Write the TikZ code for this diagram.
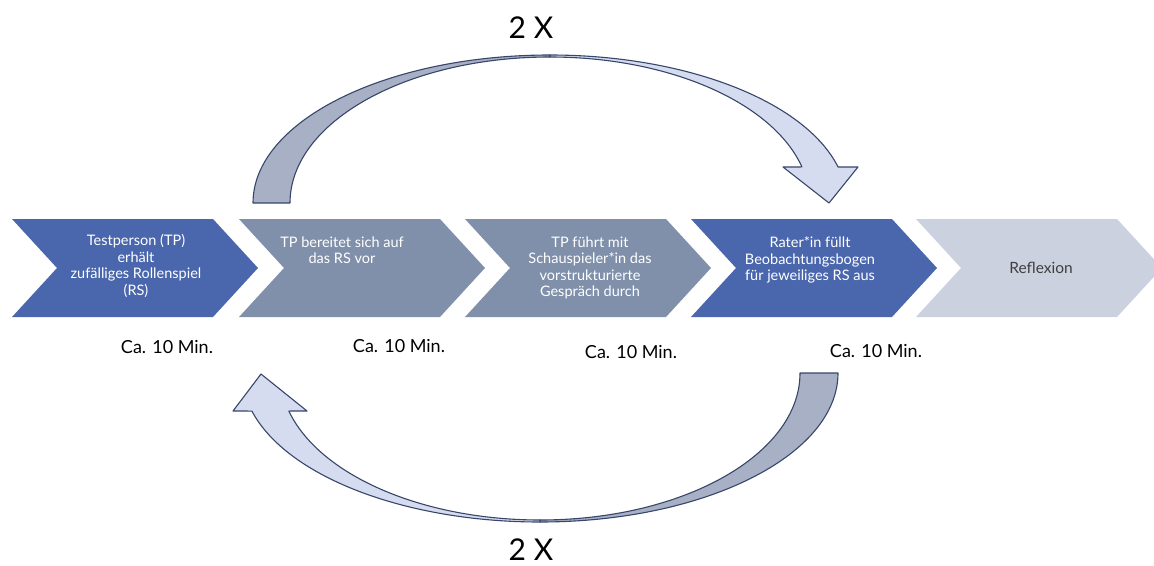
\documentclass[tikz,border=0pt]{standalone}
\usepackage{fontspec}
\usetikzlibrary{calc}
\setmainfont{Lato}
\definecolor{stepdark}{HTML}{4A66AC}
\definecolor{stepmid}{HTML}{8090AB}
\definecolor{steplight}{HTML}{CBD1DE}
\definecolor{arrowdark}{HTML}{A8B0C5}
\definecolor{arrowlight}{HTML}{D6DCEF}
\definecolor{arrowline}{HTML}{37466A}
\definecolor{labelgrey}{HTML}{3F3F3F}
\begin{document}
\begin{tikzpicture}[x=1pt,y=-1pt,
  steptext/.style={align=center,text=white,inner sep=0pt,
    font=\fontsize{14.5}{16.5}\selectfont},
  timetext/.style={inner sep=0pt,font=\fontsize{18}{20}\selectfont},
  repeattext/.style={inner sep=0pt,font=\fontsize{30}{32}\selectfont},
  bandfill/.style={draw=arrowline,line width=1.1pt,line join=round}]
\useasboundingbox (0,0) rectangle (1154,565);

% process chevrons
\foreach \L/\col in {12/stepdark,239/stepmid,465/stepmid,691/stepdark,916/steplight}
  \fill[\col] (\L,219) -- ++(201,0) -- ++(45,49) -- ++(-45,49) -- ++(-201,0) -- ++(45,-49) -- cycle;

\node[steptext] (s1) at (136,266) {Testperson (TP)\\erhält\\zufälliges Rollenspiel\\(RS)};
\node[steptext] (s2) at (342,250) {TP bereitet sich auf\\das RS vor};
\node[steptext] (s3) at (590,268) {TP führt mit\\Schauspieler*in das\\vorstrukturierte\\Gespräch durch};
\node[steptext] (s4) at (810,260) {Rater*in füllt\\Beobachtungsbogen\\für jeweiliges RS aus};
\node[steptext,font=\fontsize{15.5}{17}\selectfont,text=labelgrey] (s5) at (1041,268) {Reflexion};

% durations
\node[timetext] (t1) at (167,347) {Ca. 10 Min.};
\node[timetext] (t2) at (399,346) {Ca. 10 Min.};
\node[timetext] (t3) at (631,352) {Ca. 10 Min.};
\node[timetext] (t4) at (876,351) {Ca. 10 Min.};

% upper curved arrow: back face, then front face with head
\coordinate (uc) at (550,203);
\filldraw[bandfill,fill=arrowdark]
  ($(uc)+(180:297 and 148)$) arc[start angle=180,end angle=270,x radius=297,y radius=148]
  -- ($(uc)+(270:260 and 146)$) arc[start angle=270,end angle=180,x radius=260,y radius=146]
  -- cycle;
\filldraw[bandfill,fill=arrowlight]
  ($(uc)+(270:297 and 148)$) arc[start angle=270,end angle=345.9,x radius=297,y radius=148]
  -- (858,167) -- (829,203) -- (783,167)
  -- ($(uc)+(345.7:260 and 146)$) arc[start angle=345.7,end angle=270,x radius=260,y radius=146]
  -- cycle;

% lower curved arrow: back face, then front face with head
\coordinate (lc) at (540,373);
\filldraw[bandfill,fill=arrowdark]
  ($(lc)+(0:298 and 149)$) arc[start angle=0,end angle=90,x radius=298,y radius=149]
  -- ($(lc)+(90:260 and 147)$) arc[start angle=90,end angle=0,x radius=260,y radius=147]
  -- cycle;
\filldraw[bandfill,fill=arrowlight]
  ($(lc)+(90:298 and 149)$) arc[start angle=90,end angle=165.2,x radius=298,y radius=149]
  -- (233,411) -- (261,374) -- (307,411)
  -- ($(lc)+(165:260 and 147)$) arc[start angle=165,end angle=90,x radius=260,y radius=147]
  -- cycle;

\node[repeattext] (r1) at (531,28) {2 X};
\node[repeattext] (r2) at (531,550) {2 X};
\end{tikzpicture}
\end{document}
